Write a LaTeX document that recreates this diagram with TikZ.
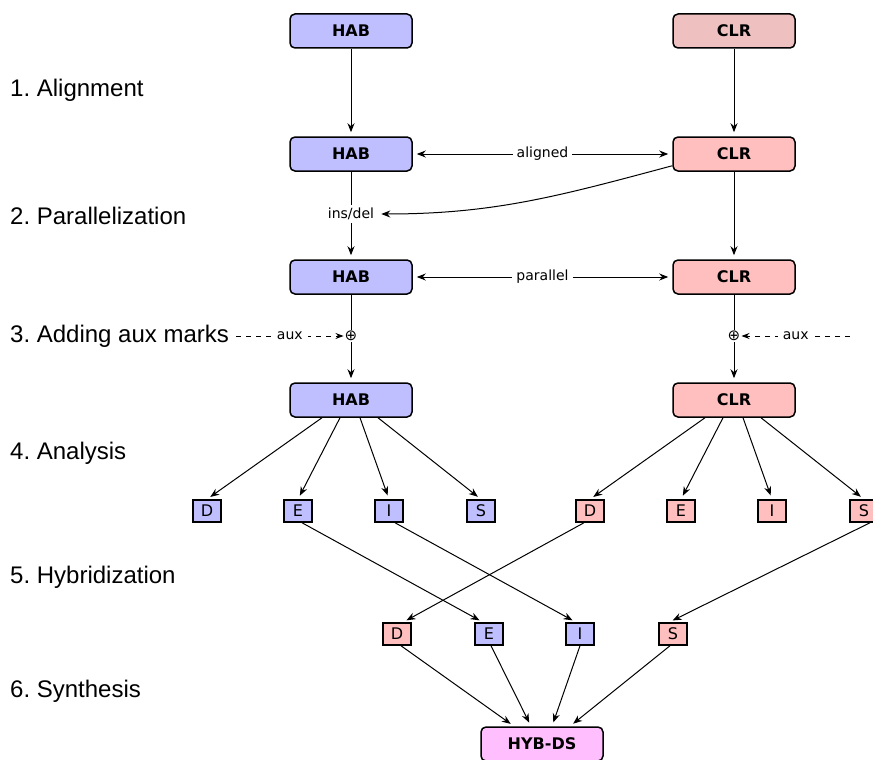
\documentclass[tikz,border=0pt]{standalone}
\usepackage{fontspec}
\setmainfont{Liberation Sans}
\newfontfamily\dejav{DejaVu Sans}
\usetikzlibrary{arrows.meta}
\definecolor{habc}{HTML}{BFBFFF}
\definecolor{clrc}{HTML}{FFBFBF}
\definecolor{clrtop}{HTML}{EEC0C0}
\definecolor{hybc}{HTML}{FFBFFF}
\frenchspacing
\begin{document}
\begin{tikzpicture}[x=1pt,y=-1pt,
  big/.style={draw, line width=1.5pt, rounded corners=5pt, minimum width=122pt, minimum height=34pt, inner sep=0pt, font=\dejav\bfseries\fontsize{16}{18}\selectfont},
  small/.style={draw, line width=1.5pt, minimum width=28pt, minimum height=22pt, inner sep=0pt, font=\dejav\fontsize{16}{18}\selectfont},
  steplbl/.style={anchor=west, inner sep=0pt, font=\fontsize{24}{28}\selectfont},
  elbl/.style={fill=white, inner sep=4pt, font=\dejav\fontsize{14}{16}\selectfont},
  arr/.style={-{Stealth[length=9pt,width=7pt]}, line width=1pt, shorten >=4pt},
  darr/.style={{Stealth[length=9pt,width=7pt]}-{Stealth[length=9pt,width=7pt]}, line width=1pt, shorten >=4pt, shorten <=4pt},
  plain/.style={line width=1pt},
  dsh/.style={line width=1pt, dash pattern=on 5pt off 5pt}
]
\useasboundingbox (0,0) rectangle (873,760);
% big boxes
\node[big, fill=habc] (hab1) at (351,31) {HAB};
\node[big, fill=clrtop] (clr1) at (734,31) {CLR};
\node[big, fill=habc] (hab2) at (351,154) {HAB};
\node[big, fill=clrc] (clr2) at (734,154) {CLR};
\node[big, fill=habc] (hab3) at (351,277) {HAB};
\node[big, fill=clrc] (clr3) at (734,277) {CLR};
\node[big, fill=habc] (hab4) at (351,400) {HAB};
\node[big, fill=clrc] (clr4) at (734,400) {CLR};
\node[big, fill=hybc] (hyb) at (542,744) {HYB-DS};
% intermediate
\node[elbl, fill=none, inner sep=3pt] (insdel) at (351,214) {ins/del};
\node[inner sep=1pt, font=\dejav\fontsize{15}{17}\selectfont] (plusL) at (351,336) {⊕};
\node[inner sep=1pt, font=\dejav\fontsize{15}{17}\selectfont] (plusR) at (734,336) {⊕};
% small boxes
\node[small, fill=habc] (bD) at (207,511) {D};
\node[small, fill=habc] (bE) at (298,511) {E};
\node[small, fill=habc] (bI) at (389,511) {I};
\node[small, fill=habc] (bS) at (481,511) {S};
\node[small, fill=clrc] (pD) at (590,511) {D};
\node[small, fill=clrc] (pE) at (681,511) {E};
\node[small, fill=clrc] (pI) at (772,511) {I};
\node[small, fill=clrc] (pS) at (864,511) {S};
\node[small, fill=clrc] (hD) at (397,634) {D};
\node[small, fill=habc] (hE) at (489,634) {E};
\node[small, fill=habc] (hI) at (580,634) {I};
\node[small, fill=clrc] (hS) at (673,634) {S};
% step labels
\node[steplbl] (l1) at (10,90) {1. Alignment};
\node[steplbl] (l2) at (10,216) {2. Parallelization};
\node[steplbl] (l3) at (10,336) {3. Adding aux marks};
\node[steplbl] (l4) at (10,453) {4. Analysis};
\node[steplbl] (l5) at (10,577) {5. Hybridization};
\node[steplbl] (l6) at (10,691) {6. Synthesis};
\coordinate (auxR) at (850,336);
% connectors
\draw[arr] (hab1) -- (hab2);
\draw[arr] (clr1) -- (clr2);
\draw[darr] (hab2) -- node[elbl]{aligned} (clr2);
\draw[plain] (hab2) -- (insdel);
\draw[arr] (insdel) -- (hab3);
\draw[arr] ([yshift=6pt]clr2.south west) to[out=-165,in=0] (insdel.east);
\draw[arr] (clr2) -- (clr3);
\draw[darr] (hab3) -- node[elbl]{parallel} (clr3);
\draw[plain] (hab3) -- (plusL);
\draw[plain] (clr3) -- (plusR);
\draw[arr] (plusL) -- (hab4);
\draw[arr] (plusR) -- (clr4);
\draw[dsh, -{Stealth[length=8pt,width=6pt]}] ([xshift=7pt]l3.east) -- node[elbl, inner sep=5pt]{aux} (plusL);
\draw[dsh, -{Stealth[length=8pt,width=6pt]}] (auxR) -- node[elbl, inner sep=5pt]{aux} (plusR);
% analysis
\draw[arr] ([xshift=-29pt]hab4.south) -- (bD.north);
\draw[arr] ([xshift=-11pt]hab4.south) -- (bE.north);
\draw[arr] ([xshift=9pt]hab4.south) -- (bI.north);
\draw[arr] ([xshift=27pt]hab4.south) -- (bS.north);
\draw[arr] ([xshift=-29pt]clr4.south) -- (pD.north);
\draw[arr] ([xshift=-11pt]clr4.south) -- (pE.north);
\draw[arr] ([xshift=9pt]clr4.south) -- (pI.north);
\draw[arr] ([xshift=27pt]clr4.south) -- (pS.north);
% hybridization
\draw[arr] ([xshift=4pt]bE.south) -- ([xshift=-6pt]hE.north);
\draw[arr] ([xshift=6pt]bI.south) -- ([xshift=-4pt]hI.north);
\draw[arr] ([xshift=-6pt]pD.south) -- ([xshift=6pt]hD.north);
\draw[arr] ([xshift=6pt]pS.south) -- ([xshift=-4pt]hS.north);
% synthesis
\draw[arr] ([xshift=4pt]hD.south) -- ([xshift=-28pt]hyb.north);
\draw[arr] ([xshift=2pt]hE.south) -- ([xshift=-11pt]hyb.north);
\draw[arr] (hI.south) -- ([xshift=10pt]hyb.north);
\draw[arr] ([xshift=-3pt]hS.south) -- ([xshift=28pt]hyb.north);
\end{tikzpicture}
\end{document}
